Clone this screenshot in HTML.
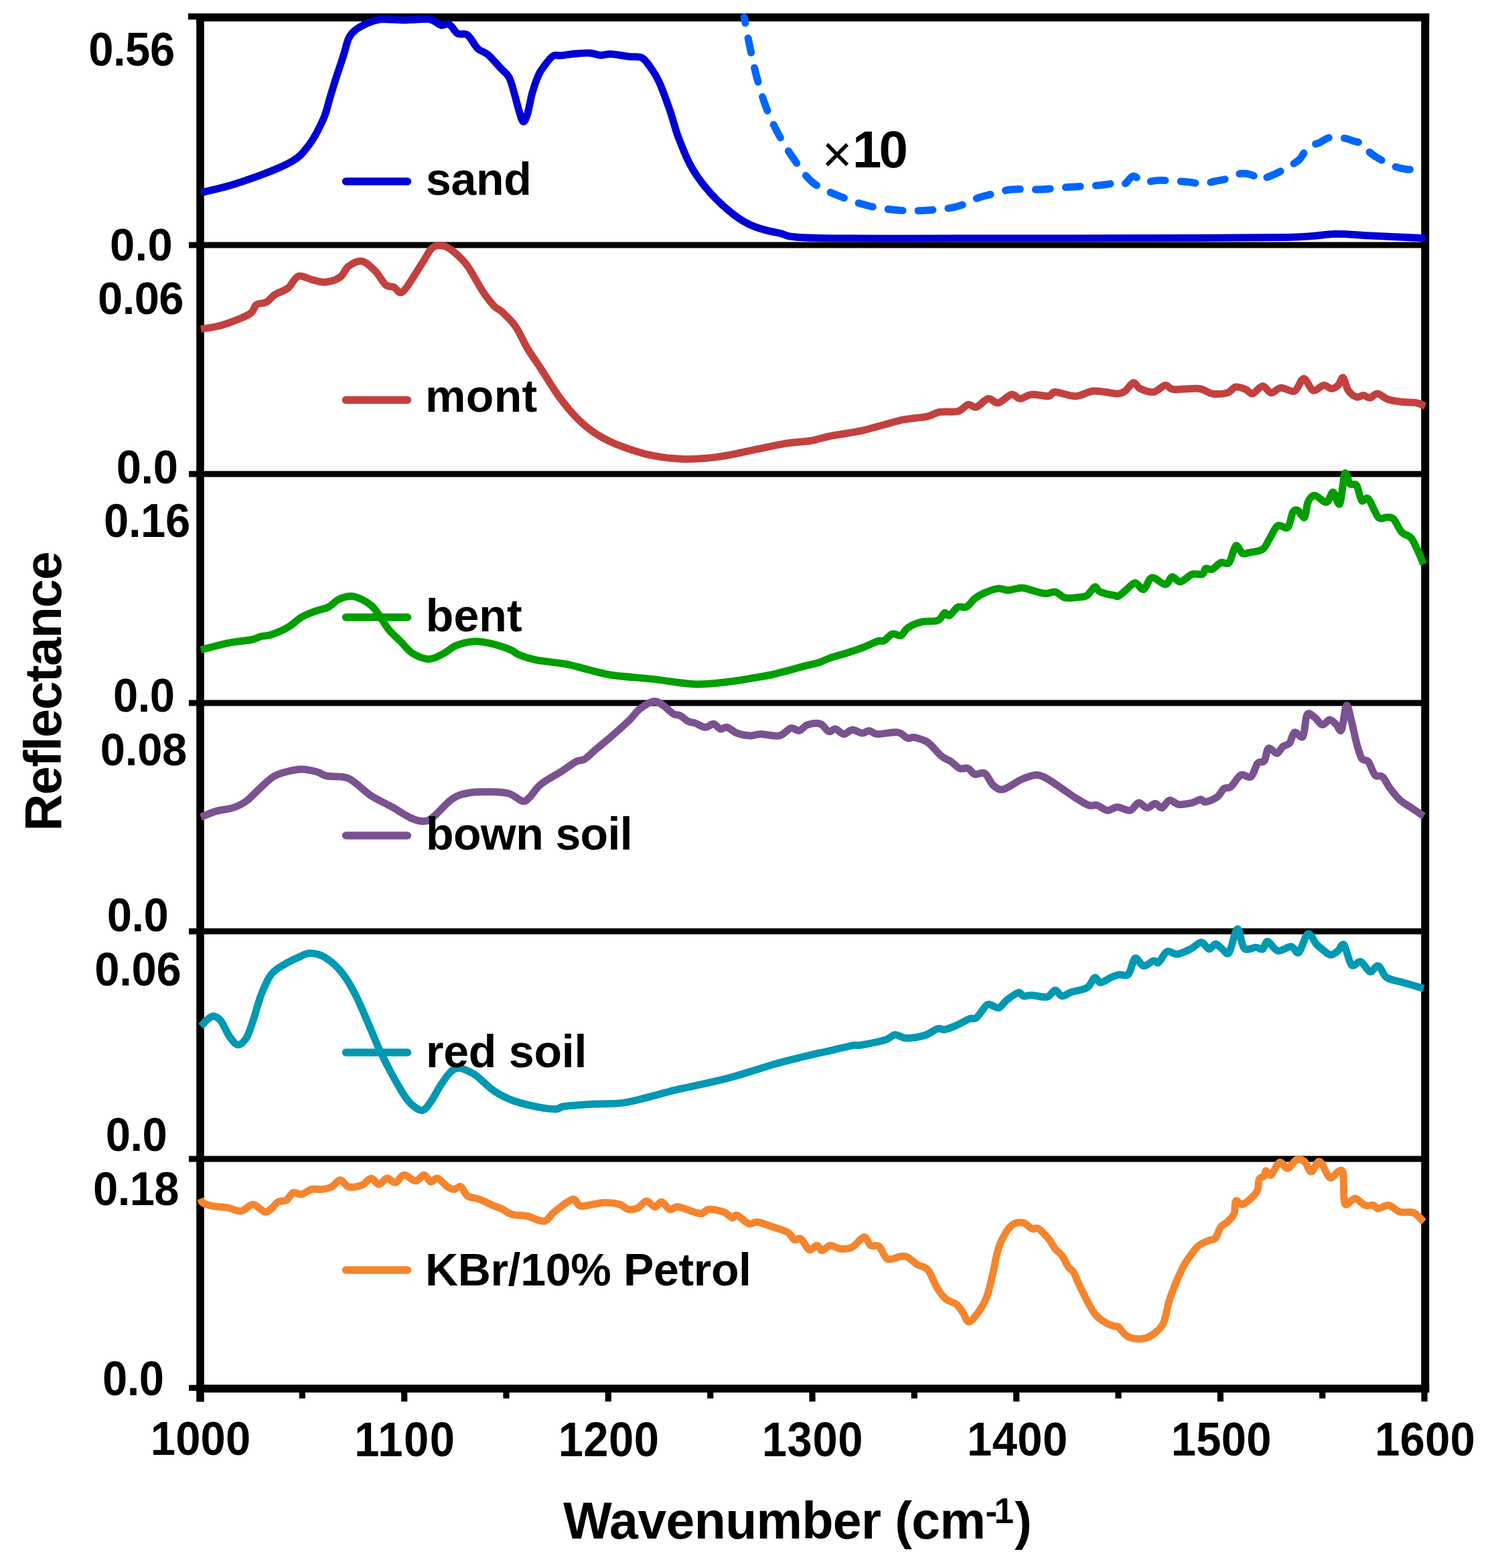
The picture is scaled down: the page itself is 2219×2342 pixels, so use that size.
<!DOCTYPE html>
<html><head><meta charset="utf-8"><title>Reflectance spectra</title>
<style>html,body{margin:0;padding:0;background:#fff;width:2219px;height:2342px;overflow:hidden}svg{display:block}text{font-family:"Liberation Sans", Arial, sans-serif;fill:#000}</style>
</head><body>
<svg width="2219" height="2342" viewBox="0 0 2219 2342">
<rect width="2219" height="2342" fill="#fff"/>
<g fill="#000">
<rect x="293.2" y="20" width="11.6" height="2073.5"/>
<rect x="2122.2" y="20" width="12" height="2060"/>
<rect x="293.2" y="20" width="1841" height="12"/>
<rect x="281" y="20" width="13" height="9.3"/>
<rect x="282" y="361.5" width="1846" height="9"/>
<rect x="282" y="703.5" width="1846" height="9"/>
<rect x="282" y="1045.5" width="1846" height="9"/>
<rect x="282" y="1386.5" width="1846" height="9"/>
<rect x="282" y="1726.5" width="1846" height="9"/>
<rect x="293.2" y="2068.2" width="1841" height="11.7"/>
<rect x="282" y="2068.6" width="12" height="8.8"/>
<rect x="294.4" y="2074" width="9.2" height="19.4"/>
<rect x="599.1" y="2074" width="9.2" height="19.4"/>
<rect x="903.7" y="2074" width="9.2" height="19.4"/>
<rect x="1208.4" y="2074" width="9.2" height="19.4"/>
<rect x="1513.1" y="2074" width="9.2" height="19.4"/>
<rect x="1817.8" y="2074" width="9.2" height="19.4"/>
<rect x="2122.4" y="2074" width="9.2" height="19.4"/>
<rect x="446.7" y="2074" width="9.2" height="14.7"/>
<rect x="751.4" y="2074" width="9.2" height="14.7"/>
<rect x="1056.1" y="2074" width="9.2" height="14.7"/>
<rect x="1360.7" y="2074" width="9.2" height="14.7"/>
<rect x="1665.4" y="2074" width="9.2" height="14.7"/>
<rect x="1970.1" y="2074" width="9.2" height="14.7"/>
</g>
<g fill="none" stroke-width="11" stroke-linejoin="round" stroke-linecap="butt">
<path stroke="#0000d4" d="M300.0,287.6C308.8,285.4 330.9,281.5 352.6,274.3C374.3,267.1 412.3,253.6 430.3,244.2C448.3,234.8 451.6,229.0 460.4,217.9C469.2,206.8 477.5,189.9 482.9,177.8C488.3,165.7 489.5,156.2 492.9,145.3C496.2,134.5 499.6,123.2 503.0,112.7C506.4,102.2 510.1,91.8 513.0,82.6C515.9,73.4 517.6,63.9 520.5,57.6C523.4,51.3 525.5,49.0 530.5,45.0C535.5,41.0 543.9,36.5 550.6,33.8C557.3,31.1 561.8,29.4 570.6,28.8C579.4,28.2 591.5,30.0 603.2,30.0C614.9,30.0 631.5,27.6 640.7,28.8C649.9,30.1 653.3,36.2 658.3,37.5C663.3,38.8 666.6,34.2 670.8,36.3C675.0,38.4 678.7,47.3 683.3,50.0C687.9,52.7 693.4,48.8 698.4,52.6C703.4,56.4 708.4,67.8 713.4,72.6C718.4,77.4 722.5,76.4 728.4,81.4C734.2,86.4 743.2,97.1 748.5,102.7C753.8,108.3 756.8,109.4 760.0,115.2C763.2,121.0 765.0,129.3 767.5,137.7C770.0,146.0 772.7,158.0 775.0,165.3C777.3,172.6 779.2,180.8 781.3,181.6C783.4,182.4 785.3,177.6 787.6,170.3C789.9,163.0 792.4,147.3 795.1,137.7C797.8,128.1 801.2,118.9 803.9,112.7C806.6,106.5 807.8,105.3 811.3,100.5C814.8,95.7 820.8,86.9 825.2,84.0C829.7,81.1 832.3,83.5 838.0,82.9C843.7,82.3 852.2,80.9 859.3,80.3C866.4,79.7 874.4,78.8 880.6,79.2C886.8,79.6 891.3,82.1 896.6,82.4C901.9,82.7 905.5,80.5 912.6,80.8C919.7,81.1 931.7,83.6 939.3,84.5C946.9,85.4 953.1,83.4 958.4,86.1C963.7,88.8 966.9,94.5 971.2,100.5C975.5,106.5 979.1,111.0 984.0,121.8C988.9,132.6 995.6,151.4 1000.5,165.3C1005.4,179.2 1007.7,191.2 1013.1,205.4C1018.5,219.6 1025.2,236.7 1033.1,250.5C1041.0,264.3 1050.3,276.4 1060.7,288.1C1071.1,299.8 1084.9,312.2 1095.7,320.6C1106.5,329.0 1114.5,333.6 1125.8,338.2C1137.1,342.8 1147.7,345.3 1163.4,348.2C1179.1,351.1 1163.9,354.2 1220.0,355.5C1276.1,356.8 1425.0,356.0 1500.0,356.0C1575.0,356.0 1599.9,355.9 1670.0,355.7C1740.1,355.4 1866.6,355.5 1920.5,354.5C1974.4,353.5 1972.3,349.9 1993.2,349.5C2014.1,349.1 2023.3,351.0 2045.8,352.0C2068.3,353.0 2114.3,355.1 2128.0,355.7"/>
<path stroke="#c2413e" d="M300.0,491.5C305.4,490.5 320.5,489.1 332.6,485.3C344.7,481.6 364.4,474.0 372.7,469.0C381.0,464.0 378.5,458.1 382.7,455.2C386.9,452.3 393.1,453.9 397.7,451.4C402.3,448.9 404.9,443.8 410.3,440.2C415.7,436.6 424.5,434.7 430.3,430.1C436.1,425.5 439.5,414.7 445.3,412.6C451.1,410.5 458.7,416.1 465.4,417.6C472.1,419.1 478.3,422.0 485.4,421.4C492.5,420.8 502.1,417.9 508.0,413.9C513.9,409.9 515.1,401.6 520.5,397.6C525.9,393.6 533.8,388.9 540.5,390.1C547.2,391.4 554.8,399.3 560.6,405.1C566.5,410.9 571.0,421.1 575.6,425.1C580.2,429.1 583.7,427.2 588.1,428.9C592.5,430.6 594.8,441.2 601.9,435.2C609.0,429.1 623.4,403.5 630.7,392.6C638.0,381.7 640.4,374.2 645.8,370.0C651.2,365.8 657.5,366.0 663.3,367.5C669.1,369.0 674.9,373.8 680.8,378.8C686.6,383.8 691.7,388.2 698.4,397.6C705.1,407.0 714.2,425.2 720.9,435.2C727.6,445.2 733.6,452.6 738.5,457.7C743.4,462.8 744.8,461.0 750.0,466.0C755.2,471.0 763.7,478.8 770.0,487.8C776.3,496.9 781.3,509.9 787.6,520.3C793.9,530.7 799.7,538.3 807.6,550.4C815.5,562.5 826.0,580.5 835.2,593.0C844.4,605.5 853.5,616.4 862.7,625.6C871.9,634.8 879.8,641.4 890.3,648.1C900.8,654.8 911.2,660.2 925.4,665.6C939.6,671.0 958.8,677.4 975.5,680.7C992.2,684.1 1008.9,685.5 1025.6,685.7C1042.3,685.9 1059.0,684.2 1075.7,681.9C1092.4,679.6 1109.1,675.2 1125.8,671.9C1142.5,668.6 1161.9,664.1 1175.9,661.9C1189.9,659.7 1199.9,660.1 1210.0,658.5C1220.1,656.9 1227.7,653.8 1236.5,652.0C1245.3,650.2 1254.1,649.1 1263.0,647.5C1271.9,645.9 1280.3,644.8 1289.8,642.6C1299.3,640.4 1310.0,637.1 1320.0,634.5C1330.0,631.9 1339.1,628.8 1350.0,626.7C1360.9,624.6 1376.6,623.7 1385.4,621.8C1394.2,619.9 1395.4,616.8 1402.9,615.5C1410.4,614.2 1423.4,616.2 1430.5,614.3C1437.6,612.4 1440.9,605.3 1445.5,604.3C1450.1,603.2 1453.0,609.5 1458.0,608.0C1463.0,606.5 1470.2,596.5 1475.6,595.5C1481.0,594.5 1484.8,602.8 1490.6,601.8C1496.4,600.8 1505.2,590.2 1510.6,589.2C1516.0,588.2 1518.2,595.5 1523.2,595.5C1528.2,595.5 1533.6,589.8 1540.7,589.2C1547.8,588.6 1560.0,592.3 1565.8,591.7C1571.6,591.1 1569.1,585.5 1575.8,585.5C1582.5,585.5 1596.6,591.9 1605.8,591.7C1615.0,591.5 1623.4,585.2 1630.9,584.2C1638.4,583.2 1644.6,584.9 1650.9,585.5C1657.2,586.1 1663.7,588.2 1668.5,588.0C1673.3,587.8 1676.0,586.9 1680.0,584.2C1684.0,581.5 1688.7,572.3 1692.5,571.7C1696.3,571.1 1697.6,578.2 1702.6,580.5C1707.6,582.8 1716.3,586.3 1722.6,585.5C1728.8,584.7 1735.1,576.1 1740.1,575.5C1745.1,574.9 1744.3,580.9 1752.7,581.7C1761.1,582.5 1780.7,579.5 1790.3,580.5C1799.9,581.5 1803.2,587.0 1810.3,588.0C1817.4,589.0 1826.9,588.4 1832.8,586.7C1838.7,585.0 1840.8,578.8 1845.4,578.0C1850.0,577.2 1856.2,580.0 1860.4,581.7C1864.6,583.4 1866.2,588.8 1870.4,588.0C1874.6,587.2 1880.9,576.9 1885.5,576.7C1890.1,576.5 1893.4,586.3 1898.0,586.7C1902.6,587.1 1907.2,579.6 1913.0,579.2C1918.8,578.8 1927.5,586.5 1933.1,584.2C1938.7,581.9 1942.2,565.6 1946.8,565.4C1951.4,565.2 1955.6,581.3 1960.6,583.0C1965.6,584.7 1972.3,575.9 1976.9,575.5C1981.5,575.1 1984.7,580.5 1988.2,580.5C1991.8,580.5 1995.3,578.2 1998.2,575.5C2001.1,572.8 2003.2,563.0 2005.7,564.2C2008.2,565.5 2009.9,578.2 2013.2,583.0C2016.5,587.8 2022.0,591.8 2025.8,593.0C2029.6,594.2 2032.5,590.3 2035.8,590.5C2039.1,590.7 2042.2,594.6 2045.8,594.2C2049.3,593.8 2052.5,587.6 2057.1,588.0C2061.7,588.4 2066.9,594.7 2073.4,596.8C2079.9,598.9 2088.8,599.7 2095.9,600.5C2103.0,601.3 2110.6,600.8 2115.9,601.8C2121.2,602.8 2126.0,606.0 2128.0,606.8"/>
<path stroke="#009e00" d="M300.0,970.6C306.7,968.9 327.6,963.1 340.1,960.6C352.6,958.1 366.9,957.2 375.2,955.5C383.5,953.8 385.2,951.8 390.2,950.5C395.2,949.2 398.5,950.3 405.2,948.0C411.9,945.7 422.8,941.2 430.3,936.8C437.8,932.4 443.6,925.7 450.3,921.7C457.0,917.7 463.7,915.5 470.4,913.0C477.1,910.5 484.5,909.6 490.4,906.7C496.2,903.8 499.9,898.1 505.5,895.4C511.1,892.7 518.4,890.4 524.2,890.4C530.0,890.4 535.3,892.9 540.5,895.4C545.7,897.9 551.4,901.6 555.6,905.4C559.8,909.2 561.4,912.1 565.6,918.0C569.8,923.9 575.2,933.8 580.6,940.5C586.0,947.2 592.4,952.1 598.2,958.0C604.1,963.9 608.6,971.2 615.7,975.6C622.8,980.0 632.8,984.4 640.7,984.4C648.6,984.4 656.6,979.0 663.3,975.6C670.0,972.2 673.3,967.2 680.8,964.3C688.3,961.4 699.2,958.4 708.4,958.0C717.6,957.6 726.9,959.7 735.9,961.8C744.9,963.9 756.0,967.9 762.5,970.6C769.0,973.3 768.8,975.6 775.1,978.1C781.4,980.6 788.4,983.3 800.1,985.6C811.8,987.9 832.7,989.6 845.2,991.9C857.7,994.2 864.0,996.7 875.3,999.4C886.6,1002.1 896.1,1005.7 912.8,1008.2C929.5,1010.7 954.6,1012.1 975.5,1014.4C996.4,1016.7 1019.3,1021.3 1038.1,1021.9C1056.9,1022.5 1073.6,1019.8 1088.2,1018.2C1102.8,1016.6 1115.1,1014.2 1125.6,1012.5C1136.1,1010.8 1142.7,1009.8 1151.2,1008.0C1159.7,1006.2 1168.3,1003.8 1176.8,1001.6C1185.3,999.4 1194.8,996.5 1202.3,994.6C1209.8,992.7 1215.1,992.1 1221.5,990.1C1227.9,988.1 1233.2,985.0 1240.7,982.4C1248.2,979.8 1257.8,977.6 1266.3,974.8C1274.8,972.0 1284.4,968.7 1291.9,965.8C1299.4,962.9 1306.4,959.0 1311.1,957.5C1315.8,956.0 1316.4,958.7 1320.0,956.9C1323.6,955.1 1328.6,948.1 1332.8,946.8C1337.0,945.5 1341.5,950.8 1345.3,949.3C1349.0,947.8 1350.3,941.4 1355.3,938.0C1360.3,934.6 1367.9,931.1 1375.4,929.2C1382.9,927.3 1394.6,929.0 1400.4,926.7C1406.2,924.4 1407.5,916.8 1410.4,915.5C1413.3,914.2 1414.6,920.7 1417.9,919.2C1421.2,917.7 1426.3,908.8 1430.5,906.7C1434.7,904.6 1438.8,908.8 1443.0,906.7C1447.2,904.6 1450.9,897.8 1455.5,894.2C1460.1,890.7 1464.8,887.9 1470.6,885.4C1476.4,882.9 1484.8,879.7 1490.6,879.1C1496.4,878.5 1499.8,881.8 1505.6,881.6C1511.4,881.4 1519.8,877.9 1525.7,877.9C1531.6,877.9 1534.9,880.1 1540.7,881.6C1546.5,883.1 1554.9,886.2 1560.7,886.6C1566.5,887.0 1570.8,883.1 1575.8,884.1C1580.8,885.1 1584.5,891.6 1590.8,892.9C1597.1,894.2 1608.0,892.3 1613.4,891.7C1618.8,891.1 1619.9,891.7 1623.4,889.2C1627.0,886.7 1631.8,877.7 1634.7,876.6C1637.6,875.5 1638.2,881.2 1640.9,882.9C1643.6,884.6 1647.1,885.5 1650.9,886.6C1654.7,887.7 1660.3,888.6 1663.5,889.2C1666.7,889.8 1666.8,891.9 1670.0,890.4C1673.2,888.9 1678.3,883.7 1682.5,880.4C1686.7,877.1 1690.9,870.4 1695.1,870.4C1699.3,870.4 1703.4,881.7 1707.6,880.4C1711.8,879.1 1714.7,864.0 1720.1,862.8C1725.5,861.5 1735.1,873.1 1740.1,872.9C1745.1,872.7 1746.4,862.2 1750.2,861.6C1754.0,861.0 1757.7,869.7 1762.7,869.1C1767.7,868.5 1774.8,859.7 1780.2,857.8C1785.6,855.9 1792.0,859.2 1795.3,857.8C1798.6,856.3 1797.8,850.4 1800.3,849.1C1802.8,847.9 1806.5,851.8 1810.3,850.3C1814.0,848.8 1818.6,842.0 1822.8,840.3C1827.0,838.6 1831.6,844.5 1835.4,840.3C1839.2,836.1 1842.1,817.5 1845.4,815.2C1848.7,812.9 1852.1,824.8 1855.4,826.5C1858.7,828.2 1860.4,826.3 1865.4,825.3C1870.4,824.3 1880.5,823.6 1885.5,820.3C1890.5,816.9 1891.8,811.1 1895.5,805.2C1899.2,799.4 1903.4,788.1 1908.0,785.2C1912.6,782.3 1919.2,791.1 1923.0,787.7C1926.8,784.4 1928.1,769.3 1930.6,765.1C1933.1,760.9 1935.2,761.3 1938.1,762.6C1941.0,763.9 1945.6,774.8 1948.1,772.7C1950.6,770.6 1950.6,755.5 1953.1,750.1C1955.6,744.7 1958.5,740.1 1963.1,740.1C1967.7,740.1 1976.1,750.9 1980.7,750.1C1985.3,749.3 1987.4,734.7 1990.7,735.1C1994.0,735.5 1997.8,757.2 2000.7,752.6C2003.6,748.0 2005.7,712.5 2008.2,707.5C2010.7,702.5 2012.8,719.6 2015.7,722.5C2018.6,725.4 2022.9,720.9 2025.8,725.1C2028.7,729.3 2030.4,744.3 2033.3,747.6C2036.2,750.9 2039.1,740.9 2043.3,745.1C2047.5,749.3 2053.7,768.1 2058.3,772.7C2062.9,777.3 2067.1,772.3 2070.9,772.7C2074.7,773.1 2077.2,771.5 2080.9,775.2C2084.7,779.0 2088.8,790.2 2093.4,795.2C2098.0,800.2 2103.0,797.3 2108.4,805.2C2113.8,813.1 2123.1,836.5 2126.0,842.8"/>
<path stroke="#7a5290" d="M300.0,1220.4C303.8,1218.9 314.7,1213.9 322.6,1211.6C330.5,1209.3 340.1,1209.1 347.6,1206.6C355.1,1204.1 361.0,1201.4 367.7,1196.6C374.4,1191.8 381.0,1183.8 387.7,1177.8C394.4,1171.8 401.1,1164.5 407.8,1160.3C414.5,1156.1 420.7,1154.6 427.8,1152.7C434.9,1150.8 442.8,1149.0 450.3,1149.0C457.8,1149.0 466.6,1151.0 472.9,1152.7C479.2,1154.4 480.0,1157.3 487.9,1159.0C495.8,1160.7 509.6,1158.0 520.5,1162.8C531.4,1167.6 542.2,1180.7 553.1,1187.8C564.0,1194.9 575.6,1199.8 585.6,1205.4C595.6,1211.0 605.3,1218.1 613.2,1221.6C621.1,1225.1 627.4,1227.0 633.2,1226.6C639.1,1226.2 641.2,1224.7 648.3,1219.1C655.4,1213.5 667.0,1198.6 675.8,1192.8C684.6,1187.0 691.7,1185.8 700.9,1184.1C710.1,1182.4 721.0,1182.6 730.9,1182.8C740.8,1183.0 751.8,1183.0 760.0,1185.3C768.2,1187.6 775.1,1195.5 780.1,1196.6C785.1,1197.6 785.5,1195.8 790.1,1191.6C794.7,1187.4 799.7,1178.0 807.6,1171.5C815.5,1165.0 828.9,1158.3 837.7,1152.7C846.5,1147.1 854.4,1140.8 860.2,1137.7C866.1,1134.6 867.8,1137.1 872.8,1134.0C877.8,1130.9 883.6,1124.6 890.3,1118.9C897.0,1113.2 904.4,1107.4 912.8,1100.1C921.1,1092.8 933.3,1082.0 940.4,1075.1C947.5,1068.2 949.3,1063.4 955.4,1058.8C961.5,1054.2 970.9,1048.3 976.7,1047.5C982.6,1046.7 985.7,1050.7 990.5,1053.8C995.3,1056.9 1001.3,1063.8 1005.5,1066.3C1009.7,1068.8 1011.8,1066.9 1015.6,1068.8C1019.4,1070.7 1024.3,1075.7 1028.1,1077.6C1031.8,1079.5 1033.9,1078.6 1038.1,1080.1C1042.3,1081.5 1048.5,1086.1 1053.1,1086.3C1057.7,1086.5 1061.9,1080.9 1065.7,1081.3C1069.5,1081.7 1072.4,1088.1 1075.7,1088.9C1079.0,1089.7 1081.5,1085.3 1085.7,1086.3C1089.9,1087.3 1094.9,1093.0 1100.7,1095.1C1106.5,1097.2 1115.0,1098.7 1120.8,1098.9C1126.6,1099.1 1128.7,1096.4 1135.8,1096.4C1142.9,1096.4 1155.9,1100.4 1163.4,1098.9C1170.9,1097.4 1175.9,1088.8 1180.9,1087.6C1185.9,1086.3 1189.2,1092.2 1193.4,1091.4C1197.6,1090.6 1200.7,1084.3 1206.0,1082.6C1211.3,1080.9 1219.7,1079.6 1225.0,1081.3C1230.3,1083.0 1233.8,1091.3 1237.6,1092.6C1241.4,1093.9 1243.8,1088.3 1247.6,1088.9C1251.3,1089.5 1255.9,1096.2 1260.1,1096.4C1264.3,1096.6 1268.0,1090.3 1272.6,1090.1C1277.2,1089.9 1283.5,1094.9 1287.7,1095.1C1291.9,1095.3 1294.0,1091.2 1297.7,1091.4C1301.5,1091.6 1303.1,1096.0 1310.2,1096.4C1317.3,1096.8 1332.8,1092.9 1340.3,1093.9C1347.8,1094.9 1351.1,1101.3 1355.3,1102.6C1359.5,1103.8 1360.3,1100.4 1365.3,1101.4C1370.3,1102.5 1378.7,1104.3 1385.4,1108.9C1392.1,1113.5 1399.6,1124.1 1405.4,1128.9C1411.2,1133.7 1415.8,1134.6 1420.4,1137.7C1425.0,1140.8 1428.8,1146.0 1433.0,1147.7C1437.2,1149.4 1441.8,1146.2 1445.5,1147.7C1449.2,1149.2 1451.3,1155.2 1455.5,1156.5C1459.7,1157.8 1466.0,1152.5 1470.6,1155.2C1475.2,1157.9 1478.5,1168.8 1483.1,1172.8C1487.7,1176.8 1491.0,1180.5 1498.1,1179.0C1505.2,1177.5 1517.8,1167.5 1525.7,1164.0C1533.6,1160.5 1539.9,1158.1 1545.7,1157.7C1551.5,1157.3 1554.0,1158.2 1560.7,1161.5C1567.4,1164.8 1578.3,1172.8 1585.8,1177.8C1593.3,1182.8 1599.1,1187.4 1605.8,1191.6C1612.5,1195.8 1620.5,1200.9 1625.9,1202.8C1631.3,1204.7 1633.8,1201.5 1638.4,1202.8C1643.0,1204.1 1648.4,1210.0 1653.4,1210.4C1658.4,1210.8 1662.8,1205.4 1668.5,1205.4C1674.2,1205.4 1682.2,1211.5 1687.5,1210.4C1692.8,1209.4 1695.9,1199.7 1700.1,1199.1C1704.3,1198.5 1708.4,1206.4 1712.6,1206.6C1716.8,1206.8 1721.3,1200.3 1725.1,1200.3C1728.8,1200.3 1731.5,1207.4 1735.1,1206.6C1738.6,1205.8 1742.2,1196.1 1746.4,1195.3C1750.6,1194.5 1754.6,1201.0 1760.2,1201.6C1765.8,1202.2 1774.8,1200.3 1780.2,1199.1C1785.6,1197.8 1789.5,1194.3 1792.8,1194.1C1796.1,1193.9 1796.1,1198.4 1800.3,1197.8C1804.5,1197.2 1813.2,1193.6 1817.8,1190.3C1822.4,1187.0 1824.4,1180.3 1827.8,1177.8C1831.2,1175.3 1833.7,1178.6 1837.9,1175.3C1842.1,1172.0 1847.9,1160.2 1852.9,1157.7C1857.9,1155.2 1863.7,1163.2 1867.9,1160.3C1872.1,1157.4 1874.6,1144.2 1877.9,1140.2C1881.2,1136.2 1885.3,1140.2 1888.0,1136.5C1890.7,1132.8 1891.1,1119.6 1894.2,1117.7C1897.3,1115.8 1903.2,1125.6 1906.8,1125.2C1910.3,1124.8 1912.4,1117.7 1915.5,1115.2C1918.6,1112.7 1922.6,1113.6 1925.5,1110.1C1928.4,1106.5 1929.8,1095.6 1933.1,1093.9C1936.4,1092.2 1942.5,1104.5 1945.6,1100.1C1948.7,1095.7 1948.9,1072.4 1951.8,1067.6C1954.7,1062.8 1959.3,1068.8 1963.1,1071.3C1966.9,1073.8 1970.6,1082.0 1974.4,1082.6C1978.2,1083.2 1982.2,1075.1 1985.7,1075.1C1989.2,1075.1 1992.8,1080.1 1995.7,1082.6C1998.6,1085.1 2000.7,1094.9 2003.2,1090.1C2005.7,1085.3 2008.2,1055.9 2010.7,1053.8C2013.2,1051.7 2015.7,1068.2 2018.2,1077.6C2020.7,1087.0 2023.3,1100.9 2025.8,1110.1C2028.3,1119.3 2030.4,1128.1 2033.3,1132.7C2036.2,1137.3 2040.0,1133.5 2043.3,1137.7C2046.6,1141.9 2049.8,1153.9 2053.3,1157.7C2056.9,1161.5 2060.8,1157.0 2064.6,1160.3C2068.4,1163.6 2071.5,1172.0 2075.9,1177.8C2080.3,1183.6 2085.9,1190.7 2090.9,1195.3C2095.9,1199.9 2100.1,1201.4 2105.9,1205.4C2111.8,1209.4 2122.7,1216.8 2126.0,1219.1"/>
<path stroke="#0098b2" d="M300.0,1532.8C301.7,1531.1 306.9,1525.3 310.0,1522.8C313.1,1520.3 315.4,1517.4 318.8,1517.8C322.2,1518.2 326.1,1520.3 330.1,1525.3C334.1,1530.3 338.4,1542.1 342.6,1547.9C346.8,1553.8 350.9,1560.0 355.1,1560.4C359.3,1560.8 363.9,1556.2 367.7,1550.4C371.5,1544.6 373.9,1536.2 377.7,1525.3C381.4,1514.4 385.6,1496.9 390.2,1485.2C394.8,1473.5 399.3,1462.7 405.2,1455.2C411.1,1447.7 418.6,1444.3 425.3,1440.1C432.0,1435.9 439.0,1432.8 445.3,1430.1C451.6,1427.4 456.2,1423.8 462.9,1423.8C469.6,1423.8 477.5,1425.3 485.4,1430.1C493.3,1434.9 503.0,1443.5 510.5,1452.7C518.0,1461.9 523.8,1472.3 530.5,1485.2C537.2,1498.1 544.8,1516.9 550.6,1530.3C556.5,1543.7 560.2,1553.7 565.6,1565.4C571.0,1577.1 576.8,1588.8 583.1,1600.5C589.4,1612.2 597.8,1627.2 603.2,1635.5C608.6,1643.8 611.1,1646.8 615.7,1650.6C620.3,1654.4 626.1,1659.3 630.7,1658.5C635.3,1657.7 638.7,1651.9 643.3,1645.6C647.9,1639.3 653.3,1628.0 658.3,1620.5C663.3,1613.0 668.7,1604.7 673.3,1600.5C677.9,1596.3 681.3,1595.2 685.8,1595.2C690.2,1595.2 695.6,1598.3 700.0,1600.3C704.4,1602.3 705.6,1602.3 711.9,1607.2C718.2,1612.1 728.7,1623.4 738.0,1629.6C747.3,1635.8 756.7,1640.5 767.9,1644.5C779.1,1648.5 794.6,1651.8 805.2,1653.8C815.8,1655.8 825.1,1656.6 831.3,1656.4C837.5,1656.2 833.1,1653.7 842.5,1652.5C851.9,1651.3 872.2,1650.0 887.8,1649.0C903.3,1648.0 915.4,1649.8 935.8,1646.3C956.2,1642.8 985.5,1633.6 1010.4,1627.7C1035.3,1621.8 1060.1,1617.4 1085.0,1610.9C1109.9,1604.4 1140.4,1594.0 1159.7,1588.5C1179.0,1583.0 1190.5,1580.6 1201.0,1578.0C1211.5,1575.4 1217.0,1574.2 1222.5,1572.9C1228.0,1571.7 1226.0,1572.4 1234.3,1570.5C1242.6,1568.6 1264.1,1563.2 1272.6,1561.6C1281.1,1560.0 1276.8,1562.5 1285.2,1561.0C1293.6,1559.5 1314.2,1555.5 1322.7,1552.9C1331.2,1550.3 1331.5,1545.8 1336.5,1545.4C1341.5,1545.0 1345.5,1550.2 1352.8,1550.4C1360.1,1550.6 1372.5,1548.9 1380.4,1546.6C1388.3,1544.3 1395.4,1538.1 1400.4,1536.6C1405.4,1535.1 1405.8,1538.6 1410.4,1537.8C1415.0,1537.0 1421.7,1534.3 1428.0,1531.6C1434.3,1528.9 1443.0,1523.5 1448.0,1521.6C1453.0,1519.7 1453.8,1523.6 1458.0,1520.3C1462.2,1517.0 1469.3,1504.6 1473.1,1501.5C1476.9,1498.4 1477.5,1500.9 1480.6,1501.5C1483.7,1502.1 1488.0,1506.5 1491.8,1505.3C1495.5,1504.0 1498.3,1497.8 1503.1,1494.0C1507.9,1490.2 1516.5,1483.8 1520.7,1482.7C1524.9,1481.7 1524.9,1487.1 1528.2,1487.7C1531.5,1488.3 1534.9,1486.3 1540.7,1486.5C1546.5,1486.7 1557.5,1490.2 1563.3,1489.0C1569.1,1487.8 1572.0,1479.2 1575.8,1479.0C1579.5,1478.8 1581.6,1487.3 1585.8,1487.7C1590.0,1488.1 1594.5,1483.6 1600.8,1481.5C1607.1,1479.4 1617.8,1478.8 1623.4,1475.2C1629.1,1471.7 1631.4,1461.5 1634.7,1460.2C1638.0,1459.0 1639.4,1467.7 1643.4,1467.7C1647.4,1467.7 1653.9,1462.2 1658.5,1460.2C1663.1,1458.2 1666.6,1456.6 1671.0,1455.8C1675.4,1455.0 1681.0,1459.3 1685.0,1455.2C1689.0,1451.1 1691.3,1433.5 1695.1,1431.4C1698.9,1429.3 1703.0,1442.0 1707.6,1442.6C1712.2,1443.2 1718.8,1435.9 1722.6,1435.1C1726.3,1434.3 1726.8,1439.9 1730.1,1437.6C1733.4,1435.3 1738.1,1423.4 1742.7,1421.3C1747.3,1419.2 1751.9,1425.7 1757.7,1425.1C1763.5,1424.5 1771.7,1420.5 1777.7,1417.6C1783.8,1414.7 1789.4,1407.6 1794.0,1407.6C1798.6,1407.6 1801.8,1417.2 1805.3,1417.6C1808.8,1418.0 1812.0,1410.1 1815.3,1410.1C1818.6,1410.1 1821.9,1415.5 1825.3,1417.6C1828.7,1419.7 1831.6,1427.6 1835.4,1422.6C1839.2,1417.6 1844.2,1388.5 1847.9,1387.5C1851.7,1386.5 1853.3,1411.7 1857.9,1416.3C1862.5,1420.9 1870.8,1414.9 1875.4,1415.1C1880.0,1415.3 1882.6,1419.1 1885.5,1417.6C1888.4,1416.1 1889.2,1405.9 1893.0,1406.3C1896.8,1406.7 1902.2,1418.8 1908.0,1420.1C1913.8,1421.3 1922.8,1413.4 1928.0,1413.8C1933.2,1414.2 1935.1,1425.7 1939.3,1422.6C1943.5,1419.5 1948.7,1397.1 1953.1,1395.0C1957.5,1392.9 1961.8,1406.1 1965.6,1410.1C1969.4,1414.1 1972.2,1416.1 1975.7,1418.8C1979.2,1421.5 1983.2,1426.1 1986.9,1426.3C1990.7,1426.5 1994.9,1422.6 1998.2,1420.1C2001.5,1417.6 2003.7,1407.8 2007.0,1411.3C2010.3,1414.8 2014.0,1437.2 2018.2,1441.4C2022.4,1445.6 2027.4,1434.7 2032.0,1436.4C2036.6,1438.1 2041.4,1450.4 2045.8,1451.4C2050.2,1452.4 2054.1,1441.1 2058.3,1442.6C2062.5,1444.1 2064.6,1456.0 2070.9,1460.2C2077.2,1464.4 2086.7,1465.0 2095.9,1467.7C2105.1,1470.4 2121.0,1475.0 2126.0,1476.5"/>
<path stroke="#f4852e" d="M300.0,1790.1C300.4,1791.1 299.6,1794.5 302.5,1796.4C305.4,1798.3 311.3,1800.2 317.6,1801.4C323.9,1802.7 333.0,1802.7 340.1,1803.9C347.2,1805.2 353.8,1809.7 360.1,1808.9C366.4,1808.1 371.9,1798.7 377.7,1798.9C383.5,1799.1 390.6,1809.2 395.2,1810.2C399.8,1811.2 401.8,1807.7 405.2,1805.2C408.6,1802.7 411.5,1797.3 415.3,1795.2C419.1,1793.1 424.1,1795.0 427.8,1792.7C431.6,1790.4 434.1,1782.9 437.8,1781.4C441.6,1779.9 445.7,1784.7 450.3,1783.9C454.9,1783.1 460.4,1777.7 465.4,1776.4C470.4,1775.2 475.4,1777.0 480.4,1776.4C485.4,1775.8 490.8,1774.9 495.4,1772.6C500.0,1770.3 503.8,1762.6 508.0,1762.6C512.2,1762.6 515.1,1771.3 520.5,1772.6C525.9,1773.8 534.9,1772.2 540.5,1770.1C546.1,1768.0 550.1,1760.3 554.3,1760.1C558.5,1759.9 561.6,1768.9 565.6,1768.9C569.6,1768.9 573.9,1760.5 578.1,1760.1C582.3,1759.7 586.4,1767.1 590.6,1766.3C594.8,1765.5 598.2,1755.5 603.2,1755.1C608.2,1754.7 615.7,1763.8 620.7,1763.8C625.7,1763.8 629.4,1754.9 633.2,1755.1C637.0,1755.3 639.9,1764.3 643.3,1765.1C646.6,1765.9 649.1,1758.8 653.3,1760.1C657.5,1761.3 664.1,1769.9 668.3,1772.6C672.5,1775.3 675.0,1776.4 678.3,1776.4C681.6,1776.4 684.9,1770.9 688.3,1772.6C691.6,1774.3 693.8,1783.3 698.4,1786.4C703.0,1789.5 709.2,1788.9 715.9,1791.4C722.6,1793.9 732.8,1799.0 738.5,1801.4C744.2,1803.8 745.6,1803.9 750.0,1806.0C754.4,1808.1 758.7,1812.2 765.0,1814.0C771.3,1815.8 779.7,1814.8 787.6,1816.5C795.5,1818.2 805.9,1825.0 812.6,1824.0C819.3,1823.0 820.6,1815.6 827.7,1810.2C834.8,1804.8 848.5,1792.9 855.2,1791.4C861.9,1789.9 860.2,1800.6 867.7,1801.4C875.2,1802.2 890.7,1796.8 900.3,1796.4C909.9,1796.0 919.1,1797.2 925.4,1798.9C931.7,1800.6 933.3,1805.6 937.9,1806.4C942.5,1807.2 948.3,1806.0 952.9,1803.9C957.5,1801.8 961.3,1794.1 965.5,1793.9C969.7,1793.7 974.2,1802.5 978.0,1802.7C981.8,1802.9 984.2,1794.6 988.0,1795.2C991.8,1795.8 996.3,1805.2 1000.5,1806.4C1004.7,1807.7 1005.6,1801.7 1013.1,1802.7C1020.6,1803.8 1038.1,1812.1 1045.6,1812.7C1053.1,1813.3 1052.3,1806.8 1058.2,1806.4C1064.1,1806.0 1074.9,1808.1 1080.7,1810.2C1086.5,1812.3 1089.9,1818.2 1093.2,1819.0C1096.5,1819.8 1096.5,1813.8 1100.7,1815.2C1104.9,1816.7 1113.3,1826.0 1118.3,1827.7C1123.3,1829.4 1125.4,1824.6 1130.8,1825.2C1136.2,1825.8 1143.4,1829.0 1150.9,1831.5C1158.4,1834.0 1170.1,1837.0 1175.9,1840.3C1181.7,1843.6 1182.6,1849.8 1185.9,1851.5C1189.2,1853.2 1192.1,1847.8 1195.9,1850.3C1199.7,1852.8 1204.5,1864.9 1208.5,1866.6C1212.5,1868.3 1216.8,1860.1 1220.0,1860.3C1223.2,1860.5 1224.2,1867.8 1227.5,1867.8C1230.8,1867.8 1235.5,1860.7 1240.1,1860.3C1244.7,1859.9 1249.7,1864.9 1255.1,1865.3C1260.5,1865.7 1266.8,1865.7 1272.6,1862.8C1278.4,1859.9 1285.6,1848.2 1290.2,1847.8C1294.8,1847.4 1296.5,1858.0 1300.2,1860.3C1304.0,1862.6 1308.5,1858.3 1312.7,1861.6C1316.9,1864.9 1319.8,1877.8 1325.2,1880.3C1330.6,1882.8 1340.3,1877.0 1345.3,1876.6C1350.3,1876.2 1351.1,1875.7 1355.3,1877.8C1359.5,1879.9 1365.3,1886.0 1370.3,1889.1C1375.3,1892.2 1380.4,1890.5 1385.4,1896.6C1390.4,1902.6 1395.8,1918.1 1400.4,1925.4C1405.0,1932.7 1408.3,1936.7 1412.9,1940.5C1417.5,1944.3 1423.8,1944.7 1428.0,1948.0C1432.2,1951.3 1434.9,1956.1 1438.0,1960.5C1441.1,1964.9 1443.0,1974.3 1446.8,1974.3C1450.5,1974.3 1456.1,1966.5 1460.5,1960.5C1464.9,1954.5 1469.3,1948.0 1473.1,1938.0C1476.9,1928.0 1480.6,1910.9 1483.1,1900.4C1485.6,1890.0 1486.0,1883.2 1488.1,1875.3C1490.2,1867.4 1491.8,1860.3 1495.6,1852.8C1499.3,1845.3 1505.2,1834.6 1510.6,1830.2C1516.0,1825.8 1523.2,1825.7 1528.2,1826.5C1533.2,1827.3 1537.0,1833.8 1540.7,1835.2C1544.5,1836.7 1546.5,1832.7 1550.7,1835.2C1554.9,1837.7 1561.6,1845.3 1565.8,1850.3C1570.0,1855.3 1572.5,1861.1 1575.8,1865.3C1579.1,1869.5 1582.5,1870.7 1585.8,1875.3C1589.1,1879.9 1592.9,1888.7 1595.8,1892.9C1598.7,1897.1 1600.4,1895.4 1603.3,1900.4C1606.2,1905.4 1608.4,1912.9 1613.4,1922.9C1618.4,1932.9 1627.2,1951.7 1633.4,1960.5C1639.7,1969.3 1645.9,1972.2 1650.9,1975.5C1655.9,1978.8 1660.3,1979.5 1663.5,1980.6C1666.7,1981.7 1666.4,1979.3 1670.0,1982.0C1673.6,1984.7 1678.7,1993.9 1685.0,1996.8C1691.3,1999.7 1700.9,2000.3 1707.6,1999.3C1714.3,1998.3 1720.1,1994.6 1725.1,1990.6C1730.1,1986.6 1734.2,1983.0 1737.6,1975.5C1740.9,1968.0 1742.3,1955.1 1745.2,1945.5C1748.1,1935.9 1751.5,1927.1 1755.2,1917.9C1759.0,1908.7 1764.0,1897.5 1767.7,1890.4C1771.5,1883.3 1773.9,1880.3 1777.7,1875.3C1781.5,1870.3 1785.7,1864.0 1790.3,1860.3C1794.9,1856.5 1801.1,1854.7 1805.3,1852.8C1809.5,1850.9 1812.4,1852.3 1815.3,1849.0C1818.2,1845.7 1819.9,1836.7 1822.8,1832.7C1825.7,1828.7 1829.4,1828.5 1832.8,1825.2C1836.2,1821.9 1840.8,1817.9 1842.9,1812.7C1845.0,1807.5 1843.3,1796.2 1845.4,1793.9C1847.5,1791.6 1851.2,1800.0 1855.4,1798.9C1859.6,1797.9 1866.7,1791.1 1870.4,1787.6C1874.2,1784.0 1876.2,1782.0 1877.9,1777.6C1879.6,1773.2 1878.7,1764.8 1880.4,1761.3C1882.1,1757.8 1886.3,1758.4 1888.0,1756.3C1889.7,1754.2 1888.8,1749.0 1890.5,1748.8C1892.2,1748.6 1894.7,1757.2 1898.0,1755.1C1901.3,1753.0 1906.3,1738.0 1910.5,1736.3C1914.7,1734.6 1918.8,1745.7 1923.0,1745.1C1927.2,1744.5 1931.4,1734.2 1935.6,1732.5C1939.8,1730.8 1944.3,1732.1 1948.1,1735.0C1951.8,1737.9 1954.3,1750.1 1958.1,1750.1C1961.8,1750.1 1966.0,1733.5 1970.6,1735.0C1975.2,1736.5 1981.1,1756.3 1985.7,1758.8C1990.3,1761.3 1994.9,1751.1 1998.2,1750.1C2001.5,1749.1 2004.0,1744.7 2005.7,1752.6C2007.4,1760.5 2005.3,1791.5 2008.2,1797.7C2011.1,1804.0 2018.3,1789.7 2023.3,1790.1C2028.3,1790.5 2033.7,1798.5 2038.3,1800.2C2042.9,1801.9 2047.5,1799.4 2050.8,1800.2C2054.1,1801.0 2054.5,1805.2 2058.3,1805.2C2062.1,1805.2 2068.0,1799.4 2073.4,1800.2C2078.8,1801.0 2084.7,1808.3 2090.9,1810.2C2097.2,1812.1 2105.1,1808.9 2110.9,1811.4C2116.8,1813.9 2123.5,1822.9 2126.0,1825.2"/>
<path stroke="#0066ff" stroke-linecap="round" stroke-dasharray="22 23" stroke-dashoffset="13" d="M1111.3,25.7C1111.7,27.8 1112.3,31.1 1113.6,38.0C1114.9,44.9 1116.6,54.9 1119.2,67.2C1121.8,79.5 1125.3,97.1 1129.2,112.0C1133.1,126.9 1137.5,142.5 1142.7,156.7C1147.9,170.9 1153.5,183.6 1160.6,197.0C1167.7,210.4 1176.2,224.6 1185.2,237.3C1194.2,250.0 1202.7,263.8 1214.3,273.1C1225.9,282.4 1240.8,287.6 1254.6,293.3C1268.4,299.0 1282.7,304.1 1297.2,307.5C1311.8,310.9 1327.0,312.9 1341.9,314.0C1356.8,315.1 1372.2,314.9 1386.7,314.0C1401.2,313.1 1416.9,311.6 1429.2,308.5C1441.5,305.4 1453.0,298.3 1460.6,295.5C1468.2,292.7 1466.7,293.6 1475.0,291.5C1483.3,289.4 1497.6,284.4 1510.6,283.0C1523.6,281.6 1538.6,283.6 1553.2,283.0C1567.8,282.4 1583.7,280.3 1598.3,279.3C1612.9,278.3 1629.0,277.9 1640.9,276.8C1652.9,275.8 1663.5,273.4 1670.0,273.0C1676.5,272.6 1676.2,276.0 1680.0,274.3C1683.8,272.6 1687.9,263.4 1692.5,263.0C1697.1,262.6 1700.9,270.8 1707.6,271.8C1714.3,272.9 1721.8,269.3 1732.6,269.3C1743.4,269.3 1762.2,271.0 1772.7,271.8C1783.2,272.6 1788.2,274.5 1795.3,274.3C1802.4,274.1 1809.0,271.8 1815.3,270.5C1821.5,269.2 1826.5,268.7 1832.8,266.8C1839.1,264.9 1846.6,260.1 1852.9,259.3C1859.2,258.5 1865.4,260.1 1870.4,261.8C1875.4,263.5 1879.7,268.7 1883.0,269.3C1886.3,269.9 1886.3,267.4 1890.5,265.5C1894.7,263.6 1902.2,260.9 1908.0,258.0C1913.8,255.1 1920.1,251.3 1925.5,248.0C1930.9,244.7 1936.0,242.6 1940.6,238.0C1945.2,233.4 1948.1,224.6 1953.1,220.4C1958.1,216.2 1965.2,215.4 1970.6,212.9C1976.0,210.4 1979.4,206.5 1985.7,205.4C1992.0,204.3 2002.4,205.8 2008.2,206.6C2014.0,207.4 2016.1,208.9 2020.7,210.4C2025.3,211.9 2031.6,212.5 2035.8,215.4C2040.0,218.3 2041.6,224.1 2045.8,227.9C2050.0,231.7 2055.0,234.7 2060.8,238.0C2066.7,241.3 2074.2,245.5 2080.9,248.0C2087.6,250.5 2093.4,252.4 2100.9,253.0C2108.4,253.6 2121.8,251.9 2126.0,251.7"/>
</g>
<g stroke-width="11.5" stroke-linecap="round">
<line x1="516.5" y1="271" x2="608.5" y2="271" stroke="#0000d4"/>
<line x1="516.5" y1="597.4" x2="608.5" y2="597.4" stroke="#c2413e"/>
<line x1="516.5" y1="922" x2="608.5" y2="922" stroke="#009e00"/>
<line x1="516.5" y1="1248" x2="608.5" y2="1248" stroke="#7a5290"/>
<line x1="516.5" y1="1572" x2="608.5" y2="1572" stroke="#0098b2"/>
<line x1="516.5" y1="1897" x2="608.5" y2="1897" stroke="#f4852e"/>
</g>
<text x="132.2" y="96.8" font-weight="bold" font-size="67" letter-spacing="-0.47" transform="matrix(1 0 0 1.0543 0 -4.01)">0.56</text>
<text x="164.0" y="388.0" font-weight="bold" font-size="67" letter-spacing="0.30" transform="matrix(1 0 0 1.0304 0 -11.11)">0.0</text>
<text x="146.0" y="468.1" font-weight="bold" font-size="67" letter-spacing="-0.60" transform="matrix(1 0 0 1.0326 0 -14.51)">0.06</text>
<text x="173.7" y="720.3" font-weight="bold" font-size="67" letter-spacing="-0.35" transform="matrix(1 0 0 1.0565 0 -39.41)">0.0</text>
<text x="155.1" y="800.8" font-weight="bold" font-size="67" letter-spacing="-0.43" transform="matrix(1 0 0 1.0413 0 -32.13)">0.16</text>
<text x="169.0" y="1062.0" font-weight="bold" font-size="67" letter-spacing="-0.50" transform="matrix(1 0 0 1.0435 0 -45.17)">0.0</text>
<text x="149.8" y="1142.6" font-weight="bold" font-size="67" letter-spacing="-0.27" transform="matrix(1 0 0 1.0304 0 -34.07)">0.08</text>
<text x="159.7" y="1390.3" font-weight="bold" font-size="67" letter-spacing="-0.50" transform="matrix(1 0 0 1.0435 0 -59.45)">0.0</text>
<text x="141.2" y="1470.7" font-weight="bold" font-size="67" letter-spacing="-0.27" transform="matrix(1 0 0 1.0435 0 -62.94)">0.06</text>
<text x="157.7" y="1718.3" font-weight="bold" font-size="67" letter-spacing="-0.50" transform="matrix(1 0 0 1.0435 0 -73.71)">0.0</text>
<text x="139.1" y="1798.5" font-weight="bold" font-size="67" letter-spacing="-0.63" transform="matrix(1 0 0 1.0543 0 -96.50)">0.18</text>
<text x="153.0" y="2082.8" font-weight="bold" font-size="67" letter-spacing="-0.50" transform="matrix(1 0 0 1.0652 0 -134.33)">0.0</text>
<text x="224.7" y="2172.3" font-weight="bold" font-size="67" letter-spacing="0.20" transform="matrix(1 0 0 1.0435 0 -93.45)">1000</text>
<text x="529.3" y="2173.1" font-weight="bold" font-size="67" letter-spacing="1.47" transform="matrix(1 0 0 1.0652 0 -140.22)">1100</text>
<text x="833.7" y="2173.1" font-weight="bold" font-size="67" letter-spacing="0.43" transform="matrix(1 0 0 1.0652 0 -140.22)">1200</text>
<text x="1137.8" y="2173.1" font-weight="bold" font-size="67" letter-spacing="0.57" transform="matrix(1 0 0 1.0652 0 -140.22)">1300</text>
<text x="1444.0" y="2173.2" font-weight="bold" font-size="67" letter-spacing="0.40" transform="matrix(1 0 0 1.0435 0 -93.49)">1400</text>
<text x="1748.7" y="2173.2" font-weight="bold" font-size="67" letter-spacing="0.27" transform="matrix(1 0 0 1.0435 0 -93.49)">1500</text>
<text x="2053.0" y="2173.2" font-weight="bold" font-size="67" letter-spacing="0.27" transform="matrix(1 0 0 1.0435 0 -93.49)">1600</text>
<text x="636.0" y="291.1" font-weight="bold" font-size="68" letter-spacing="-0.27">sand</text>
<text x="634.9" y="615.1" font-weight="bold" font-size="68" letter-spacing="0.37">mont</text>
<text x="635.8" y="942.7" font-weight="bold" font-size="68" letter-spacing="0.07">bent</text>
<text x="636.0" y="1268.7" font-weight="bold" font-size="68" letter-spacing="-0.60">bown soil</text>
<text x="636.0" y="1593.8" font-weight="bold" font-size="68" letter-spacing="-0.21">red soil</text>
<text x="634.9" y="1920.3" font-weight="bold" font-size="68" letter-spacing="-0.32">KBr/10% Petrol</text>
<text x="1273.0" y="250.4" font-weight="bold" font-size="78" letter-spacing="-4.00">10</text>
<text x="1227.5" y="256.6" font-weight="normal" font-size="77">×</text>
<text x="-147.3" y="1059.1" font-weight="bold" font-size="77" letter-spacing="-1.44" transform="rotate(-90 63 1031.1)">Reflectance</text>
<text x="840.9" y="2298.4" font-weight="bold" font-size="77" letter-spacing="-0.61">Wavenumber (cm</text>
<text x="1484.4" y="2274.5" font-weight="bold" font-size="53">1</text>
<text x="1471.5" y="2275.6" font-weight="bold" font-size="53">-</text>
<text x="1515.2" y="2299.4" font-weight="bold" font-size="77">)</text>
</svg>
</body></html>
